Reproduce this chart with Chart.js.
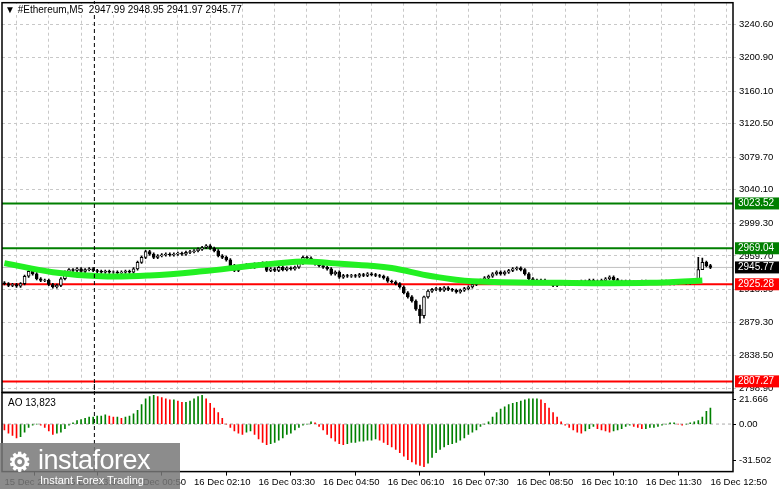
<!DOCTYPE html>
<html>
<head>
<meta charset="utf-8">
<script src="https://cdn.jsdelivr.net/npm/chart.js@4"></script>
<style>
  body { margin: 0; background: #fff; width: 781px; height: 489px; overflow: hidden; position: relative; font-family: "Liberation Sans", Arial, sans-serif; }
  #mainWrap { position: absolute; left: 0; top: -6px; width: 781px; height: 407px; }
  #aoWrap { position: absolute; left: 0; top: 384px; width: 781px; height: 105px; }
  .title { position: absolute; font-size: 10px; color: #000; background: #fff; }
  #logo { position: absolute; left: 0; top: 443px; width: 180px; height: 46px; background: rgba(120,120,120,0.85); color: #fff; }
</style>
</head>
<body>
<div id="mainWrap"><canvas id="mainChart"></canvas></div>
<div id="aoWrap"><canvas id="aoChart"></canvas></div>
<div class="title" style="left:5px;top:4px">&#9660; #Ethereum,M5&nbsp; 2947.99 2948.95 2941.97 2945.77</div>
<div class="title" style="left:8px;top:397px">AO 13,823</div>
<div id="logo">
  <div style="position:absolute;left:8px;top:4px;font-size:26px;font-weight:bold;color:#fff">&#9881;</div>
  <div style="position:absolute;left:38px;top:2px;font-size:27px;letter-spacing:-0.5px">instaforex</div>
  <div style="position:absolute;left:40px;top:31px;font-size:11px">Instant Forex Trading</div>
</div>
<script>
// M5 closes, first candle 15 Dec 22:15
const closes = [
  2926,2924,2925,2923,2926, 2935,2941, 2938,2932,2930,2930, 2925,2922,2924, 2932,2940,
  2943,2942,2944,2941,2943,2944, 2942,2941,2940,2941,2940,2940,2939,2940,2941,2940,
  2944,2952,2958, 2965,2962,2958,2960, 2961,2962,2961,2962,2963,2962,2964,2965,2966,2968,
  2970,2972,2969,2966, 2960,2958,2955, 2948,2942,2946, 2947,2949,2946,2950,2948,2951,
  2942,2944,2942,2946,2943,2945,2944,2946, 2951,2958,2957, 2952,2950,2948,2946,2944,
  2938,2940,2934,2936,2935, 2936,2935,2937,2936,2938,2937,2936,2935,2933,
  2929,2928,2926, 2922,2915,2910, 2905,2895,2887, 2910,2917,2919,
  2920,2918,2921,2919,2918, 2916,2918,2920,2922,2925, 2929,2930,2933,2935,2938,
  2940,2938,2940,2942,2944, 2945,2943,2938, 2932,2930,2929,2930,2928,
  2927,2924,2926,2927,2925,2927, 2928,2927,2929,2928,2930,2929, 2928,2930,2932,2934,2931,2929,
  2928,2929,2928,2927,2928,2929,2928,2927, 2928,2927,2929,2928,2926,2927,
  2928,2929,2927,2928, 2930,2943, 2952,2948, 2945.77
];
const firstOpen = 2927;
// long wicks: [index, low, high]
const spikes = [[103, 2878, 2900], [104, 2884, 2911], [172, 2940, 2958], [173, 2944, 2957]];
const maPoints = [
  [0,2951],[12,2940],[24,2935],[36,2936],[49,2941],[62,2948],[74,2953],[81,2951],
  [90,2948],[96,2945],[106,2935],[116,2929],[138,2927],[160,2927],[173,2930]
];
const aoValues = [
  -5,-8,-10,-12,-11,-7, -3,-1,0,-1, -3,-6,-9,-8,-7,-4,-1, 1,3,4,5,6,6,7, 7,8,7,6,6,5,6,7,
  9,12,17,22,24,25, 24,23,22,21,21,20,19, 19,20,22,24,25,22,18,14, 10,5,0, -3,-6,-8,-9,-7,
  -6,-9,-13,-16,-18,-17,-16,-14,-12,-9, -8,-5,-3,-1,0, 2,1,
  -2,-5,-9,-12,-15,-17,-18,-17,-16,-16,-15,-15,-14, -14,-13,-14,-16,-18,-20,
  -22,-25,-28,-31,-33,-35,-36,-37, -34,-29,-25,-22,-20,-18,-17,-16,-14,-12,-9,
  -7,-5,-2,0,2, 6,10,13,15,17,18,19,20, 21,22,22,22,21, 18,14,10,6,2,
  -1,-3,-5,-7,-8,-6,-4,-2, -4,-5,-6,-7,-6,-5,-4,-2,-1, -2,-3,-4,-4,-3,-3,-2,-1,
  0,1,1,0,-1,0,1, 2,3,6,11,13.823
];
const priceTicks = [3240.60,3200.90,3160.10,3120.50,3079.70,3040.10,2999.30,2959.70,2918.90,2879.30,2838.50,2798.90];
const aoTicks = [21.666, 0, -31.502];
const levels = [
  {value: 3023.52, color: '#007f00', label: '3023.52'},
  {value: 2969.04, color: '#007f00', label: '2969.04'},
  {value: 2945.77, color: '#c0c0c0', label: '2945.77', box: '#000'},
  {value: 2925.28, color: '#ff0000', label: '2925.28'},
  {value: 2807.27, color: '#ff0000', label: '2807.27'}
];
const crossIndex = 22.3;

const baseTime = new Date(2025, 11, 15, 22, 15);
function timeLabel(i) {
  if (i === 0) return '15 Dec 2025';
  const d = new Date(baseTime.getTime() + i * 300000);
  const p = n => String(n).padStart(2, '0');
  return d.getDate() + ' Dec ' + p(d.getHours()) + ':' + p(d.getMinutes());
}

const opens = closes.map((c, i) => i === 0 ? firstOpen : closes[i - 1]);
const bodies = closes.map((c, i) => ({x: i, y: [opens[i], c === opens[i] ? c + 0.4 : c]}));
const wicks = closes.map((c, i) => {
  const s = spikes.find(k => k[0] === i);
  if (s) return {x: i, y: [s[1], s[2]]};
  return {x: i, y: [Math.min(opens[i], c) - 1.5, Math.max(opens[i], c) + 1.5]};
});

const X_MIN = -0.6, X_MAX = 180.6;
const dash = [3, 3];
const font = {family: 'Liberation Sans', size: 9.5};

const frame = {
  id: 'frame',
  afterDraw(chart) {
    const {ctx, chartArea: a} = chart;
    ctx.save();
    ctx.strokeStyle = '#000';
    ctx.lineWidth = 1.5;
    ctx.strokeRect(a.left, a.top, a.right - a.left, a.bottom - a.top);
    const x = chart.scales.x.getPixelForValue(crossIndex);
    ctx.setLineDash([4, 3]);
    ctx.lineWidth = 1;
    ctx.beginPath(); ctx.moveTo(x, 0); ctx.lineTo(x, a.bottom); ctx.stroke();
    ctx.restore();
  }
};

const levelPlugin = {
  id: 'levels',
  beforeDatasetsDraw(chart) {
    const {ctx, chartArea: a, scales: {y}} = chart;
    ctx.save();
    levels.forEach(l => {
      const py = y.getPixelForValue(l.value);
      ctx.strokeStyle = l.color;
      ctx.lineWidth = l.box ? 1 : 2;
      ctx.beginPath(); ctx.moveTo(a.left, py); ctx.lineTo(a.right, py); ctx.stroke();
    });
    ctx.restore();
  },
  afterDraw(chart) {
    const {ctx, chartArea: a, scales: {y}} = chart;
    ctx.save();
    ctx.font = '10px Liberation Sans';
    ctx.textBaseline = 'middle';
    levels.forEach(l => {
      const py = y.getPixelForValue(l.value);
      ctx.fillStyle = l.box || l.color;
      ctx.fillRect(a.right + 2, py - 6, 44, 12);
      ctx.fillStyle = '#fff';
      ctx.fillText(l.label, a.right + 5, py);
    });
    ctx.restore();
  }
};

new Chart(document.getElementById('mainChart'), {
  type: 'bar',
  data: {
    datasets: [
      {type: 'line', data: maPoints.map(p => ({x: p[0], y: p[1]})), borderColor: '#22f022', borderWidth: 6,
       pointRadius: 0, tension: 0.4, order: 0},
      {data: bodies, backgroundColor: bodies.map(b => b.y[1] >= b.y[0] ? '#fff' : '#000'),
       borderColor: '#000', borderWidth: 1, barThickness: 3, borderSkipped: false, grouped: false, order: 1},
      {data: wicks, backgroundColor: '#000', barThickness: 1, grouped: false, order: 2}
    ]
  },
  options: {
    responsive: true, maintainAspectRatio: false, animation: false,
    layout: {padding: {left: 2}},
    plugins: {legend: {display: false}, tooltip: {enabled: false}},
    scales: {
      x: {type: 'linear', min: X_MIN, max: X_MAX, offset: false,
          afterBuildTicks: s => { s.ticks = []; for (let i = 7; i <= 180; i += 8) s.ticks.push({value: i}); },
          ticks: {display: false}, border: {display: false, dash},
          grid: {color: '#c8c8c8', tickLength: 0, lineWidth: 1}},
      y: {position: 'right', min: 2794, max: 3267.5,
          afterBuildTicks: s => { s.ticks = priceTicks.map(v => ({value: v})); },
          afterFit: s => { s.width = 48; },
          ticks: {font, color: '#000', callback: v => v.toFixed(2), padding: 3},
          border: {display: false, dash},
          grid: {color: '#c8c8c8', tickLength: 3}}
    }
  },
  plugins: [levelPlugin, frame]
});

new Chart(document.getElementById('aoChart'), {
  type: 'bar',
  data: {
    datasets: [{
      data: aoValues.map((v, i) => ({x: i, y: v})),
      backgroundColor: aoValues.map((v, i) => i > 0 && v >= aoValues[i - 1] ? '#008000' : '#ff0000'),
      barThickness: 1
    }]
  },
  options: {
    responsive: true, maintainAspectRatio: false, animation: false,
    layout: {padding: {left: 2}},
    plugins: {legend: {display: false}, tooltip: {enabled: false}},
    scales: {
      x: {type: 'linear', min: X_MIN, max: X_MAX, offset: false,
          afterBuildTicks: s => { s.ticks = [{value: 0}]; for (let i = 15; i <= 180; i += 16) s.ticks.push({value: i}); },
          ticks: {font, color: '#000', align: 'start', maxRotation: 0, autoSkip: false, padding: 1,
                  callback: v => timeLabel(v)},
          border: {display: false},
          grid: {drawOnChartArea: false, tickLength: 4, color: '#000'}},
      y: {position: 'right', min: -41.4, max: 27.3,
          afterBuildTicks: s => { s.ticks = aoTicks.map(v => ({value: v})); },
          afterFit: s => { s.width = 48; },
          ticks: {font, color: '#000', padding: 3, callback: v => v === 0 ? '0.00' : String(v)},
          border: {display: false},
          grid: {drawOnChartArea: false, tickLength: 3, color: '#000'}}
    }
  },
  plugins: [frame, {
    id: 'zero',
    beforeDatasetsDraw(chart) {
      const {ctx, chartArea: a, scales: {y}} = chart;
      const py = y.getPixelForValue(0);
      ctx.save(); ctx.strokeStyle = '#aaa'; ctx.setLineDash(dash);
      ctx.beginPath(); ctx.moveTo(a.left, py); ctx.lineTo(a.right, py); ctx.stroke();
      ctx.restore();
    }
  }]
});
</script>
</body>
</html>
